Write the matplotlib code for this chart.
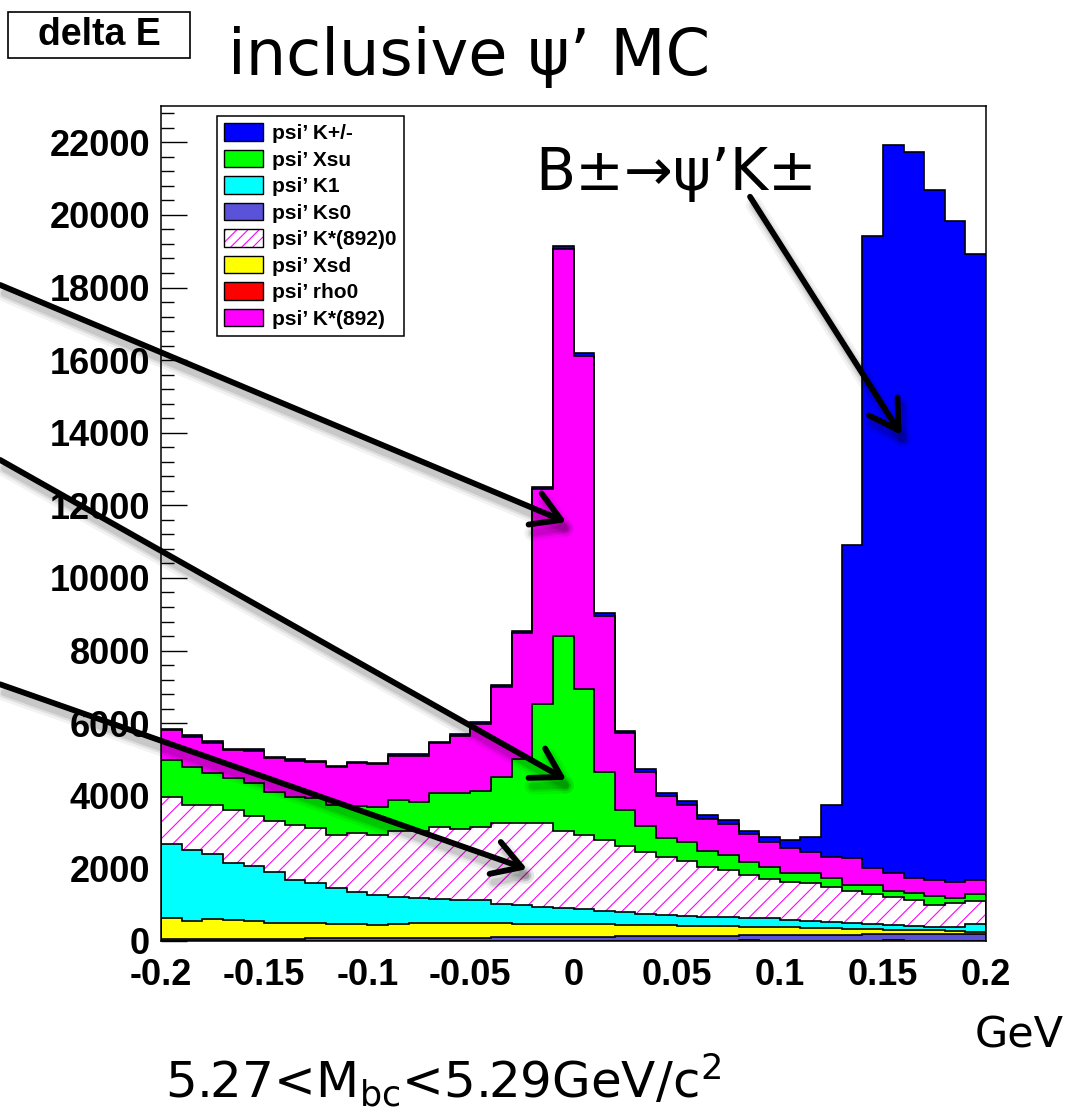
import numpy as np
import matplotlib
matplotlib.use("Agg")
import matplotlib.pyplot as plt
from matplotlib.patches import Patch, Rectangle
from matplotlib.legend_handler import HandlerTuple
import matplotlib.patheffects as pe

# delta E binning: 40 bins of 10 MeV
edges = np.linspace(-0.2, 0.2, 41)

# entries per bin for each psi' mode (stacked bottom -> top)
rho0 = [0, 0, 0, 0, 0, 0, 0, 0, 0, 0,
        0, 0, 0, 0, 0, 0, 0, 0, 0, 0,
        0, 0, 0, 0, 0, 0, 0, 0, 15, 0,
        0, 0, 0, 0, 0, 15, 0, 0, 0, 0]
ks0 = [55, 55, 60, 60, 60, 65, 65, 70, 70, 75,
       80, 80, 85, 90, 90, 95, 100, 105, 110, 110,
       115, 120, 125, 130, 135, 140, 145, 150, 155, 160,
       165, 170, 170, 175, 180, 185, 185, 190, 195, 200]
xsd = [570, 505, 555, 520, 500, 440, 440, 420, 400, 395,
       360, 390, 405, 415, 410, 400, 390, 375, 360, 360,
       345, 335, 320, 310, 295, 280, 265, 250, 225, 230,
       215, 190, 180, 165, 150, 110, 115, 100, 75, 55]
k1 = [2045, 1950, 1785, 1580, 1515, 1405, 1175, 1115, 980, 890,
      830, 750, 685, 655, 640, 635, 530, 510, 475, 450,
      410, 365, 345, 310, 290, 270, 245, 260, 245, 235,
      190, 185, 175, 165, 140, 140, 120, 105, 125, 215]
kstar0 = [1305, 1240, 1350, 1450, 1370, 1405, 1515, 1500, 1470, 1625,
          1650, 1820, 1865, 1970, 1935, 2020, 2240, 2270, 2315, 2105,
          2050, 1960, 1820, 1710, 1595, 1505, 1395, 1295, 1170, 1085,
          1055, 1045, 955, 880, 815, 750, 700, 595, 645, 640]
xsu = [1015, 1050, 890, 870, 915, 795, 780, 825, 825, 735,
       760, 845, 800, 950, 995, 990, 1250, 1740, 3270, 5375,
       4010, 1885, 1000, 710, 515, 540, 420, 415, 375, 330,
       260, 295, 260, 155, 255, 170, 190, 240, 135, 185]
kstar = [820, 830, 820, 780, 875, 920, 995, 990, 1040, 1175,
         1185, 1220, 1265, 1365, 1580, 1840, 2495, 3495, 5910, 10650,
         9185, 4295, 2110, 1495, 1160, 1010, 900, 850, 750, 675,
         675, 560, 580, 740, 475, 510, 430, 440, 460, 375]
kpm = [40, 40, 40, 40, 40, 40, 40, 40, 40, 40,
       40, 40, 40, 40, 40, 40, 40, 40, 60, 80,
       75, 70, 60, 75, 100, 125, 100, 100, 105, 150,
       220, 420, 1430, 8620, 17405, 20050, 19980, 19020, 18195, 17260]

stack_order = [
    ("psi\u2019 rho0", rho0, "#ff0000", None),
    ("psi\u2019 Ks0", ks0, "#5a52d8", None),
    ("psi\u2019 Xsd", xsd, "#ffff00", None),
    ("psi\u2019 K1", k1, "#00ffff", None),
    ("psi\u2019 K*(892)0", kstar0, "white", "//"),
    ("psi\u2019 Xsu", xsu, "#00ff00", None),
    ("psi\u2019 K*(892)", kstar, "#ff00ff", None),
    ("psi\u2019 K+/-", kpm, "#0000ff", None),
]
legend_order = ["psi\u2019 K+/-", "psi\u2019 Xsu", "psi\u2019 K1", "psi\u2019 Ks0",
                "psi\u2019 K*(892)0", "psi\u2019 Xsd", "psi\u2019 rho0", "psi\u2019 K*(892)"]

plt.rcParams["hatch.linewidth"] = 0.8

fig = plt.figure(figsize=(10.68, 11.17), dpi=100)
ax = fig.add_axes([161 / 1068, 1 - 941 / 1117, 825 / 1068, 835 / 1117])

base = np.zeros(40)
tops = []
handles = {}
for name, vals, col, hatch in stack_order:
    top = base + np.array(vals, dtype=float)
    if hatch:
        ax.stairs(top, edges, baseline=base, fill=True, facecolor="white",
                  edgecolor="#ff00ff", hatch=hatch, linewidth=0, zorder=1)
        handles[name] = (Patch(facecolor="white", edgecolor="#ff00ff", hatch="///",
                               linewidth=0),
                         Patch(facecolor="none", edgecolor="black", linewidth=1))
    else:
        ax.stairs(top, edges, baseline=base, fill=True, color=col, linewidth=0, zorder=1)
        handles[name] = Patch(facecolor=col, edgecolor="black", linewidth=1)
    tops.append(top)
    base = top

# black outline of every cumulative histogram
for top in tops:
    ax.stairs(top, edges, baseline=0, fill=False, color="black", linewidth=1.2, zorder=2)

ax.set_xlim(-0.2, 0.2)
ax.set_ylim(0, 23000)
ax.set_axisbelow(True)

xt = [-0.2, -0.15, -0.1, -0.05, 0, 0.05, 0.1, 0.15, 0.2]
ax.set_xticks(xt)
ax.set_xticklabels(["-0.2", "-0.15", "-0.1", "-0.05", "0", "0.05", "0.1", "0.15", "0.2"])
ax.set_yticks(np.arange(0, 22001, 2000))
ax.set_yticks(np.arange(0, 23000, 400), minor=True)
ax.tick_params(axis="y", which="major", direction="in", length=19, width=1, pad=8)
ax.tick_params(axis="y", which="minor", direction="in", length=9.5, width=1)
ax.tick_params(axis="x", which="both", direction="in", length=0, pad=12)
for lab in ax.get_xticklabels() + ax.get_yticklabels():
    lab.set_fontfamily("Liberation Sans")
    lab.set_fontweight("bold")
    lab.set_fontsize(26)
for s in ax.spines.values():
    s.set_linewidth(1.1)

leg = ax.legend([handles[n] for n in legend_order], legend_order,
                handler_map={tuple: HandlerTuple(ndivide=1, pad=0)},
                loc="upper left", bbox_to_anchor=(0.068, 0.988), borderaxespad=0,
                prop={"family": "Liberation Sans", "weight": "bold", "size": 15},
                frameon=True, fancybox=False, edgecolor="black", framealpha=1,
                handlelength=1.85, handleheight=0.9, handletextpad=0.45,
                labelspacing=0.32, borderpad=0.35)
leg.get_frame().set_linewidth(1.1)
leg.set_zorder(4)

# arrows pointing at the individual components
shadow = [pe.Stroke(linewidth=12, foreground="black", alpha=0.05, offset=(3, -6)),
          pe.Stroke(linewidth=8, foreground="black", alpha=0.08, offset=(3, -6)),
          pe.Stroke(linewidth=5, foreground="black", alpha=0.1, offset=(3, -6)),
          pe.Normal()]
arrow_style = dict(arrowstyle="->, head_length=0.75, head_width=0.45", lw=4.2,
                   color="black", shrinkA=0, shrinkB=0, mutation_scale=27,
                   capstyle="round", joinstyle="round", path_effects=shadow)
arrows = [((-0.278, 18070), (-0.0035, 11540)),
          ((-0.278, 13250), (-0.0035, 4440)),
          ((-0.278, 7070), (-0.0225, 1980)),
          ((0.0856, 20500), (0.159, 13940))]
for tail, tip in arrows:
    ax.annotate("", xy=tip, xytext=tail, xycoords="data", textcoords="data",
                arrowprops=arrow_style, annotation_clip=False, zorder=5)

ax.text(-0.0187, 20690, "B\u00b1\u2192\u03c8\u2019K\u00b1", fontsize=42,
        family="DejaVu Sans", va="baseline", ha="left", zorder=6)

fig.text(228 / 1068, 1 - 75 / 1117, "inclusive \u03c8\u2019 MC", fontsize=46,
         family="DejaVu Sans", va="baseline", ha="left")
fig.patches.append(Rectangle((8 / 1068, 1 - 58 / 1117), 182 / 1068, 46 / 1117,
                             transform=fig.transFigure, facecolor="white",
                             edgecolor="black", linewidth=1.2))
fig.text(99 / 1068, 1 - 35 / 1117, "delta E", fontsize=27, family="Liberation Sans",
         weight="bold", ha="center", va="center")
fig.text(975 / 1068, 1 - 1048 / 1117, "GeV", fontsize=31, family="DejaVu Sans",
         va="baseline", ha="left")
fig.text(165 / 1068, 1 - 1098 / 1117, r"5.27<M$_{\rm bc}$<5.29GeV/c$^{2}$",
         fontsize=36, family="DejaVu Sans", va="baseline", ha="left")

fig.savefig("out.png", dpi=100)
